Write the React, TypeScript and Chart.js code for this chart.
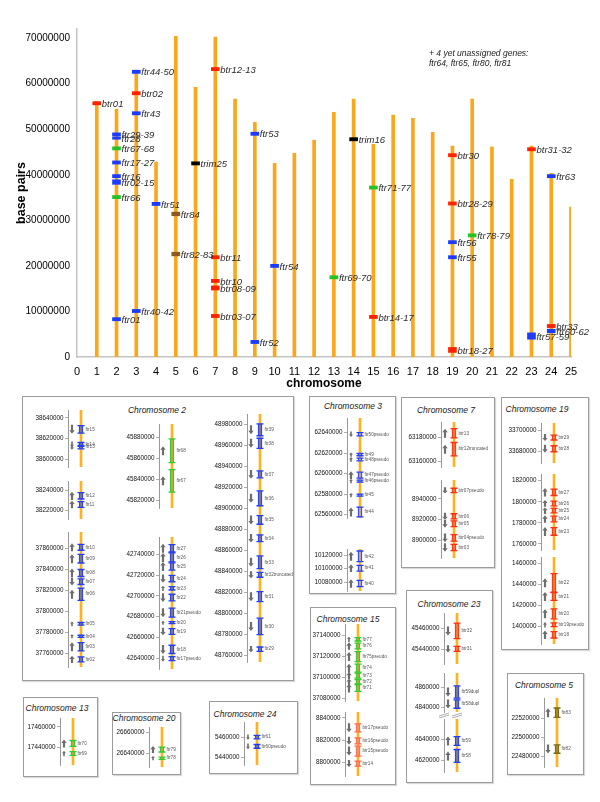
import React, { useEffect, useRef } from "react";
import { Chart, registerables } from "chart.js";
Chart.register(...registerables);

const FONT = "'Liberation Sans', Arial, Helvetica, sans-serif";

// ---------- main overview chart data ----------
const chromosomeNumbers = [1, 2, 3, 4, 5, 6, 7, 8, 9, 10, 11, 12, 13, 14, 15, 16, 17, 18, 19, 20, 21, 22, 23, 24, 25];
const chromosomeLengths = [56100000, 54400000, 63000000, 42800000, 70400000, 59200000, 70200000, 56600000, 51500000, 42500000, 44700000, 47600000, 53700000, 56600000, 46700000, 53100000, 52400000, 49300000, 46300000, 56600000, 46100000, 39000000, 46300000, 40300000, 32900000];
const xTickValues = [0, 1, 2, 3, 4, 5, 6, 7, 8, 9, 10, 11, 12, 13, 14, 15, 16, 17, 18, 19, 20, 21, 22, 23, 24, 25];
const yTickValues = [0, 10000000, 20000000, 30000000, 40000000, 50000000, 60000000, 70000000];

const markerChromosome = [1, 2, 2, 2, 2, 2, 2, 2, 2, 3, 3, 3, 3, 4, 5, 5, 6, 7, 7, 7, 7, 7, 9, 9, 10, 13, 14, 15, 15, 19, 19, 19, 19, 19, 20, 23, 23, 24, 24, 24];
const markerLabels = ["btr01", "ftr29-39", "ftr28", "ftr67-68", "ftr17-27", "ftr16", "ftr02-15", "ftr66", "ftr01", "ftr44-50", "btr02", "ftr43", "ftr40-42", "ftr51", "ftr84", "ftr82-83", "trim25", "btr12-13", "btr11", "btr10", "btr08-09", "btr03-07", "ftr53", "ftr52", "ftr54", "ftr69-70", "trim16", "ftr71-77", "btr14-17", "btr30", "btr28-29", "ftr56", "ftr55", "btr18-27", "ftr78-79", "btr31-32", "ftr57-59", "ftr63", "btr33", "ftr60-62"];
const markerLow = [55350000, 48500000, 47800000, 45450000, 42350000, 39350000, 37900000, 34750000, 7950000, 62250000, 57550000, 53150000, 9750000, 33250000, 31000000, 22200000, 42150000, 62850000, 21550000, 16350000, 14700000, 8650000, 48650000, 2950000, 19650000, 17150000, 47450000, 36850000, 8450000, 43950000, 33350000, 24850000, 21550000, 1000000, 26350000, 45250000, 3900000, 39350000, 6450000, 5300000];
const markerHigh = [56050000, 49200000, 48300000, 46150000, 43050000, 40050000, 38900000, 35450000, 8650000, 62950000, 58250000, 53850000, 10450000, 33950000, 31800000, 23000000, 42850000, 63550000, 22250000, 17050000, 15600000, 9350000, 49350000, 3650000, 20350000, 17850000, 48150000, 37550000, 9150000, 44650000, 34050000, 25550000, 22250000, 2100000, 27050000, 45950000, 5300000, 40050000, 7150000, 6100000];
const markerFamily = ["btr", "ftr", "ftr", "ftrG", "ftr", "ftr", "ftr", "ftrG", "ftr", "ftr", "btr", "ftr", "ftr", "ftr", "ftrB", "ftrB", "trim", "btr", "btr", "btr", "btr", "btr", "ftr", "ftr", "ftr", "ftrG", "trim", "ftrG", "btr", "btr", "btr", "ftr", "ftr", "btr", "ftrG", "btr", "ftr", "ftr", "btr", "ftr"];
const unassignedNote = ["+ 4 yet unassigned genes:", "ftr64, ftr65, ftr80, ftr81"];

// ---------- detail panels data: [gene, start, end, strand] ----------
const chr2aTicks = [38600000, 38620000, 38640000];
const chr2aGenes = [["ftr15", 38625200, 38632600, "-"], ["ftr14", 38612300, 38616100, "-"], ["ftr13", 38610000, 38613200, "-"]];
const chr2bTicks = [38220000, 38240000];
const chr2bGenes = [["ftr12", 38231300, 38237400, "+"], ["ftr11", 38223300, 38228700, "+"]];
const chr2cTicks = [37760000, 37780000, 37800000, 37820000, 37840000, 37860000];
const chr2cGenes = [["ftr10", 37858400, 37864100, "+"], ["ftr09", 37846200, 37854500, "+"], ["ftr08", 37833300, 37840000, "+"], ["ftr07", 37825600, 37831000, "-"], ["ftr06", 37810400, 37822200, "+"], ["ftr05", 37786700, 37789200, "+"], ["ftr04", 37775000, 37777000, "+"], ["ftr03", 37762000, 37770000, "+"], ["ftr02", 37751500, 37756300, "+"]];
const chr2dTicks = [45820000, 45840000, 45860000, 45880000];
const chr2dGenes = [["ftr68", 45856200, 45878800, "+"], ["ftr67", 45828200, 45849500, "+"]];
const chr2eTicks = [42640000, 42660000, 42680000, 42700000, 42720000, 42740000];
const chr2eGenes = [["ftr27", 42742200, 42749300, "+"], ["ftr26", 42732700, 42741300, "+"], ["ftr25", 42724700, 42731700, "+"], ["ftr24", 42713600, 42719700, "-"], ["ftr23", 42705700, 42708900, "+"], ["ftr22", 42695200, 42701600, "-"], ["ftr21pseudo", 42679700, 42688200, "-"], ["ftr20", 42673300, 42675200, "+"], ["ftr19", 42663100, 42668500, "-"], ["ftr18", 42644700, 42652600, "-"], ["ftr17pseudo", 42637800, 42641600, "-"]];
const chr2fTicks = [48760000, 48780000, 48800000, 48820000, 48840000, 48860000, 48880000, 48900000, 48920000, 48940000, 48960000, 48980000];
const chr2fGenes = [["ftr39", 48969100, 48980300, "-"], ["ftr38", 48957100, 48966700, "-"], ["ftr37", 48929000, 48935600, "-"], ["ftr36", 48902400, 48916600, "-"], ["ftr35", 48884800, 48893000, "-"], ["ftr34", 48868300, 48874600, "-"], ["ftr33", 48842600, 48854600, "-"], ["ftr32truncated", 48834300, 48839000, "-"], ["ftr31", 48811100, 48820600, "-"], ["ftr30", 48779700, 48795300, "-"], ["ftr29", 48763800, 48767900, "-"]];
const chr3aTicks = [62560000, 62580000, 62600000, 62620000, 62640000];
const chr3aGenes = [["ftr50pseudo", 62636700, 62640000, "-"], ["ftr49", 62617400, 62619600, "+"], ["ftr48pseudo", 62612400, 62615100, "+"], ["ftr47pseudo", 62595500, 62601400, "+"], ["ftr46pseudo", 62591600, 62593500, "+"], ["ftr45", 62578000, 62580000, "+"], ["ftr44", 62557700, 62567400, "+"]];
const chr3bTicks = [10080000, 10100000, 10120000];
const chr3bGenes = [["ftr42", 10110200, 10125900, "+"], ["ftr41", 10096500, 10104900, "+"], ["ftr40", 10073600, 10082900, "+"]];
const chr15aTicks = [37080000, 37100000, 37120000, 37140000];
const chr15aGenes = [["ftr77", 37134900, 37138100, "+"], ["ftr76", 37127400, 37132800, "+"], ["ftr75pseudo", 37115200, 37124800, "+"], ["ftr74", 37105100, 37112700, "+"], ["ftr73", 37099400, 37104200, "+"], ["ftr72", 37093700, 37097800, "+"], ["ftr71", 37086600, 37093000, "+"]];
const chr15bTicks = [8800000, 8820000, 8840000];
const chr15bGenes = [["btr17pseudo", 8827600, 8834700, "-"], ["btr16pseudo", 8816900, 8822200, "-"], ["btr15pseudo", 8805900, 8814800, "-"], ["btr14", 8797000, 8801400, "-"]];
const chr7aTicks = [63160000, 63180000];
const chr7aGenes = [["btr13", 63179700, 63187600, "+"], ["btr12truncated", 63164500, 63175800, "+"]];
const chr7bTicks = [8900000, 8920000, 8940000];
const chr7bGenes = [["btr07pseudo", 8946100, 8950300, "-"], ["btr06", 8920600, 8925600, "-"], ["btr05", 8913100, 8918600, "-"], ["btr04pseudo", 8899000, 8905400, "-"], ["btr03", 8889800, 8896000, "-"]];
const chr23aTicks = [45440000, 45460000];
const chr23aGenes = [["btr32", 45450500, 45465400, "-"], ["btr31", 45438400, 45443200, "-"]];
const chr23bTicks = [4840000, 4860000];
const chr23bGenes = [["ftr59dupl", 4849000, 4861300, "-"], ["ftr58dupl", 4839000, 4847300, "-"]];
const chr23cTicks = [4620000, 4640000];
const chr23cGenes = [["ftr59", 4634200, 4642600, "+"], ["ftr58", 4618000, 4630300, "+"]];
const chr19aTicks = [33680000, 33700000];
const chr19aGenes = [["btr29", 33690800, 33695400, "-"], ["btr28", 33680000, 33685500, "-"]];
const chr19bTicks = [1760000, 1780000, 1800000, 1820000];
const chr19bGenes = [["btr27", 1806000, 1812100, "+"], ["btr26", 1796200, 1800700, "+"], ["btr25", 1789500, 1793700, "+"], ["btr24", 1781000, 1786400, "+"], ["btr23", 1768300, 1775600, "+"]];
const chr19cTicks = [1400000, 1420000, 1440000, 1460000];
const chr19cGenes = [["btr22", 1432900, 1450400, "+"], ["btr21", 1425000, 1432300, "+"], ["btr20", 1407400, 1416900, "+"], ["btr19pseudo", 1400000, 1403500, "+"], ["btr18", 1389100, 1395200, "+"]];
const chr5Ticks = [22480000, 22500000, 22520000];
const chr5Genes = [["ftr83", 22520600, 22530400, "+"], ["ftr82", 22483400, 22492000, "-"]];
const chr13Ticks = [17440000, 17460000];
const chr13Genes = [["ftr70", 17440600, 17446500, "+"], ["ftr69", 17431700, 17435400, "+"]];
const chr20Ticks = [26640000, 26660000];
const chr20Genes = [["ftr79", 26641000, 26645700, "+"], ["ftr78", 26634000, 26636200, "+"]];
const chr24Ticks = [5440000, 5460000];
const chr24Genes = [["ftr61", 5458300, 5461700, "-"], ["ftr60pseudo", 5449000, 5452700, "-"]];

// ---------- styles ----------
const FAMILY_COLOR: any = { btr: "#FF2200", ftr: "#1B3BFF", ftrG: "#22C322", ftrB: "#8A5A1E", trim: "#000000" };
const CHROM_ORANGE = "#FBA71B";
const SEG_STYLE: any = {
  blue: { stroke: "#1F3DFF", fill: "rgba(125,118,125,0.85)" },
  blueLight: { stroke: "#1F3DFF", fill: "rgba(235,200,140,0.55)" },
  green: { stroke: "#2FCB2F", fill: "rgba(190,165,70,0.7)" },
  red: { stroke: "#FF2E0E", fill: "rgba(255,120,60,0.75)" },
  salmon: { stroke: "#FF6A4A", fill: "rgba(255,150,110,0.7)" },
  olive: { stroke: "#7E6A10", fill: "rgba(160,130,40,0.85)" },
};

function MainChart() {
  const ref = useRef<HTMLCanvasElement>(null);
  useEffect(() => {
    const labelPlugin = {
      id: "markerLabels",
      afterDatasetsDraw(chart: any) {
        const ctx = chart.ctx;
        const meta = chart.getDatasetMeta(0);
        ctx.save();
        ctx.font = `italic 9.5px ${FONT}`;
        ctx.fillStyle = "#2a2a2a";
        ctx.textBaseline = "middle";
        meta.data.forEach((el: any, i: number) => {
          const y = (el.y + el.base) / 2;
          ctx.fillText(markerLabels[i], el.x + 5, y + 1);
        });
        ctx.restore();
      },
    };
    const chart = new Chart(ref.current as HTMLCanvasElement, {
      type: "bar",
      data: {
        datasets: [
          {
            data: markerChromosome.map((c, i) => ({ x: c, y: [markerLow[i], markerHigh[i]] })) as any,
            backgroundColor: markerFamily.map((f) => FAMILY_COLOR[f]),
            barThickness: 8,
            grouped: false,
          } as any,
          {
            data: chromosomeNumbers.map((c, i) => ({ x: c, y: [0, chromosomeLengths[i]] })) as any,
            backgroundColor: CHROM_ORANGE,
            barThickness: 3,
            grouped: false,
          } as any,
        ],
      },
      options: {
        animation: false,
        responsive: false,
        events: [],
        layout: { padding: { top: 29, right: 29, left: 0, bottom: 0 } },
        plugins: { legend: { display: false }, tooltip: { enabled: false } },
        scales: {
          x: {
            type: "linear",
            min: 0,
            max: 25,
            offset: false,
            grid: { display: false, drawTicks: false },
            border: { display: true, color: "#c4c4c4", width: 1.5 },
            ticks: { padding: 8, font: { size: 11, family: FONT }, color: "#000", autoSkip: false, maxRotation: 0, callback: (v: any) => String(v) },
            afterBuildTicks: (s: any) => { s.ticks = xTickValues.map((v) => ({ value: v })); },
            afterFit: (s: any) => { s.height = 38; },
            title: { display: true, text: "chromosome", font: { size: 12, weight: "bold", family: FONT }, color: "#000", padding: { top: 0, bottom: 4 } },
          } as any,
          y: {
            type: "linear",
            min: 0,
            max: 72000000,
            grid: { display: false, drawTicks: false },
            border: { display: true, color: "#c4c4c4", width: 1.5 },
            ticks: { padding: 7, font: { size: 10, family: FONT }, color: "#000", autoSkip: false, callback: (v: any) => String(v) },
            afterBuildTicks: (s: any) => { s.ticks = yTickValues.map((v) => ({ value: v })); },
            afterFit: (s: any) => { s.width = 77; },
            title: { display: true, text: "base pairs", font: { size: 12.5, weight: "bold", family: FONT }, color: "#000", padding: { top: 14, bottom: 0 } },
          } as any,
        },
      } as any,
      plugins: [labelPlugin],
    });
    return () => chart.destroy();
  }, []);
  return <canvas ref={ref} width={600} height={395} style={{ position: "absolute", left: 0, top: 0, width: 600, height: 395 }} />;
}

function drawArrow(ctx: any, x: number, cy: number, len: number, up: boolean) {
  const half = len / 2;
  const head = Math.min(3.5, len * 0.45);
  const hw = len < 6 ? 2 : 2.7;
  const sw = len < 6 ? 0.8 : 1.1;
  ctx.beginPath();
  if (up) {
    const tip = cy - half, b = cy + half;
    ctx.moveTo(x, tip); ctx.lineTo(x + hw, tip + head); ctx.lineTo(x + sw, tip + head); ctx.lineTo(x + sw, b);
    ctx.lineTo(x - sw, b); ctx.lineTo(x - sw, tip + head); ctx.lineTo(x - hw, tip + head);
  } else {
    const tip = cy + half, b = cy - half;
    ctx.moveTo(x, tip); ctx.lineTo(x + hw, tip - head); ctx.lineTo(x + sw, tip - head); ctx.lineTo(x + sw, b);
    ctx.lineTo(x - sw, b); ctx.lineTo(x - sw, tip - head); ctx.lineTo(x - hw, tip - head);
  }
  ctx.closePath();
  ctx.fill();
}

function Segment(props: any) {
  const { axisX, top, bottom, min, max, ticks, genes, styleKey, breakBelow } = props;
  const ref = useRef<HTMLCanvasElement>(null);
  const W = 140, PADV = 6, LEFTW = 45, AREA = 26;
  const H = Math.round(bottom - top + PADV * 2);
  useEffect(() => {
    const st = SEG_STYLE[styleKey];
    const genePlugin = {
      id: "geneDecor",
      afterDatasetsDraw(chart: any) {
        const ctx = chart.ctx;
        const meta = chart.getDatasetMeta(0);
        ctx.save();
        meta.data.forEach((el: any, i: number) => {
          const g = genes[i];
          const y1 = Math.min(el.y, el.base), y2 = Math.max(el.y, el.base);
          const cx = el.x;
          ctx.strokeStyle = st.stroke;
          ctx.lineWidth = 1.3;
          ctx.beginPath();
          ctx.moveTo(cx - 3.5, y1); ctx.lineTo(cx + 3.5, y1);
          ctx.moveTo(cx - 3.5, y2); ctx.lineTo(cx + 3.5, y2);
          ctx.stroke();
          const mid = (y1 + y2) / 2;
          const len = Math.max(4, Math.min(9, y2 - y1 + 2));
          ctx.fillStyle = "#6e6e6e";
          drawArrow(ctx, cx - 9, mid, len, g[3] === "+");
          ctx.fillStyle = "#555";
          ctx.font = `4.6px ${FONT}`;
          ctx.textBaseline = "middle";
          ctx.fillText(g[0], cx + 4.5, mid);
        });
        if (breakBelow) {
          const area = chart.chartArea;
          const y = area.bottom + 3.5;
          const xs = [area.left, meta.data.length ? meta.data[0].x : area.left + 13];
          ctx.strokeStyle = "#999";
          ctx.lineWidth = 0.8;
          xs.forEach((x: number) => {
            ctx.beginPath();
            ctx.moveTo(x - 5, y + 0.5); ctx.lineTo(x + 5, y - 2.5);
            ctx.moveTo(x - 5, y + 2.5); ctx.lineTo(x + 5, y - 0.5);
            ctx.stroke();
          });
        }
        ctx.restore();
      },
    };
    const chart = new Chart(ref.current as HTMLCanvasElement, {
      type: "bar",
      data: {
        datasets: [
          {
            data: genes.map((g: any) => ({ x: 0.5, y: [g[1], g[2]] })),
            backgroundColor: st.fill,
            borderColor: st.stroke,
            borderWidth: { left: 1.1, right: 1.1, top: 0, bottom: 0 },
            borderSkipped: false,
            barThickness: 4,
            minBarLength: 2,
            grouped: false,
          } as any,
          {
            data: [{ x: 0.5, y: [min, max] }],
            backgroundColor: "#FFB21E",
            barThickness: 2,
            grouped: false,
          } as any,
        ],
      },
      options: {
        animation: false,
        responsive: false,
        events: [],
        layout: { padding: { top: PADV, bottom: PADV, left: 0, right: W - LEFTW - AREA } },
        plugins: { legend: { display: false }, tooltip: { enabled: false } },
        scales: {
          x: { type: "linear", display: false, min: 0, max: 1, offset: false } as any,
          y: {
            type: "linear",
            min,
            max,
            grid: { display: true, drawOnChartArea: false, drawTicks: true, tickLength: 3, color: "#999", lineWidth: 0.8 },
            border: { display: true, color: "#999", width: 1 },
            ticks: { font: { size: 6.3, family: FONT }, color: "#111", padding: 1.5, autoSkip: false, callback: (v: any) => String(v) },
            afterBuildTicks: (s: any) => { s.ticks = ticks.map((v: number) => ({ value: v })); },
            afterFit: (s: any) => { s.width = LEFTW; },
          } as any,
        },
      } as any,
      plugins: [genePlugin],
    });
    return () => chart.destroy();
  }, []);
  return (
    <canvas
      ref={ref}
      width={W}
      height={H}
      style={{ position: "absolute", left: axisX - LEFTW, top: top - PADV, width: W, height: H }}
    />
  );
}

function Box(props: any) {
  const { l, t, r, b, title, tx, ty } = props;
  return (
    <>
      <div style={{ position: "absolute", left: l, top: t, width: r - l, height: b - t, border: "1.5px solid #9c9c9c", boxSizing: "border-box", boxShadow: "1px 1px 1px rgba(0,0,0,0.15)" }} />
      <div style={{ position: "absolute", left: tx, top: ty, transform: "translate(-50%,-50%)", whiteSpace: "nowrap", font: `italic 8.5px ${FONT}`, color: "#222" }}>{title}</div>
    </>
  );
}

export default function App() {
  return (
    <div style={{ position: "absolute", left: 0, top: 0, width: 600, height: 802, background: "#fff", overflow: "hidden", fontFamily: FONT }}>
      <MainChart />
      <div style={{ position: "absolute", left: 429, top: 49, font: `italic 8.5px ${FONT}`, lineHeight: "9.5px", color: "#222", whiteSpace: "nowrap" }}>
        {unassignedNote[0]}<br />{unassignedNote[1]}
      </div>

      <Box l={22} t={396} r={294} b={681} title="Chromosome 2" tx={157} ty={410} />
      <Box l={309} t={396} r={396} b={594} title="Chromosome 3" tx={353} ty={406} />
      <Box l={310} t={607} r={396} b={785} title="Chromosome 15" tx={348} ty={619} />
      <Box l={401} t={397} r={495} b={568} title="Chromosome 7" tx={446} ty={410} />
      <Box l={406} t={590} r={493} b={783} title="Chromosome 23" tx={449} ty={604} />
      <Box l={501} t={397} r={589} b={650} title="Chromosome 19" tx={537} ty={409} />
      <Box l={507} t={673} r={584} b={775} title="Chromosome 5" tx={544} ty={685} />
      <Box l={23} t={697} r={98} b={777} title="Chromosome 13" tx={57} ty={708} />
      <Box l={112} t={712} r={181} b={775} title="Chromosome 20" tx={144} ty={718} />
      <Box l={209} t={701} r={298} b={774} title="Chromosome 24" tx={245} ty={714} />

      <Segment axisX={68} top={410} bottom={467} min={38592300} max={38647700} ticks={chr2aTicks} genes={chr2aGenes} styleKey="blue" />
      <Segment axisX={68} top={481} bottom={519} min={38212000} max={38248700} ticks={chr2bTicks} genes={chr2bGenes} styleKey="blue" />
      <Segment axisX={68} top={531.7} bottom={666.7} min={37746600} max={37875900} ticks={chr2cTicks} genes={chr2cGenes} styleKey="blue" />
      <Segment axisX={159} top={424} bottom={508} min={45813000} max={45893000} ticks={chr2dTicks} genes={chr2dGenes} styleKey="green" />
      <Segment axisX={159} top={536.7} bottom={669} min={42629800} max={42756600} ticks={chr2eTicks} genes={chr2eGenes} styleKey="blue" />
      <Segment axisX={247} top={414} bottom={661.7} min={48753600} max={48989800} ticks={chr2fTicks} genes={chr2fGenes} styleKey="blue" />

      <Segment axisX={347} top={417.7} bottom={517.7} min={62556700} max={62654200} ticks={chr3aTicks} genes={chr3aGenes} styleKey="blueLight" />
      <Segment axisX={347} top={549} bottom={591} min={10067300} max={10128800} ticks={chr3bTicks} genes={chr3bGenes} styleKey="blueLight" />

      <Segment axisX={345} top={624} bottom={701} min={37077400} max={37151200} ticks={chr15aTicks} genes={chr15aGenes} styleKey="green" />
      <Segment axisX={345} top={712.3} bottom={776.7} min={8788100} max={8845300} ticks={chr15bTicks} genes={chr15bGenes} styleKey="salmon" />

      <Segment axisX={441} top={421.7} bottom={466.7} min={63155000} max={63193200} ticks={chr7aTicks} genes={chr7aGenes} styleKey="red" />
      <Segment axisX={441} top={480} bottom={558.3} min={8882700} max={8958300} ticks={chr7bTicks} genes={chr7bGenes} styleKey="red" />

      <Segment axisX={444} top={613.3} bottom={664.3} min={45426400} max={45475000} ticks={chr23aTicks} genes={chr23aGenes} styleKey="red" />
      <Segment axisX={444} top={673.3} bottom={712} min={4835300} max={4874000} ticks={chr23bTicks} genes={chr23bGenes} styleKey="blue" breakBelow />
      <Segment axisX={444} top={719} bottom={771.7} min={4608700} max={4659600} ticks={chr23cTicks} genes={chr23cGenes} styleKey="blue" />

      <Segment axisX={541} top={423} bottom={463} min={33669600} max={33706500} ticks={chr19aTicks} genes={chr19aGenes} styleKey="red" />
      <Segment axisX={541} top={474.3} bottom={550} min={1754300} max={1826400} ticks={chr19bTicks} genes={chr19bGenes} styleKey="red" />
      <Segment axisX={541} top={556.7} bottom={643.3} min={1383400} max={1466300} ticks={chr19cTicks} genes={chr19cGenes} styleKey="red" />

      <Segment axisX={544} top={698.3} bottom={767} min={22469100} max={22540800} ticks={chr5Ticks} genes={chr5Genes} styleKey="olive" />
      <Segment axisX={60} top={718.3} bottom={765.7} min={17422100} max={17468900} ticks={chr13Ticks} genes={chr13Genes} styleKey="green" />
      <Segment axisX={149} top={726.7} bottom={766.7} min={26626700} max={26664800} ticks={chr20Ticks} genes={chr20Genes} styleKey="green" />
      <Segment axisX={244} top={721.7} bottom={764.3} min={5432400} max={5475000} ticks={chr24Ticks} genes={chr24Genes} styleKey="blue" />
    </div>
  );
}
